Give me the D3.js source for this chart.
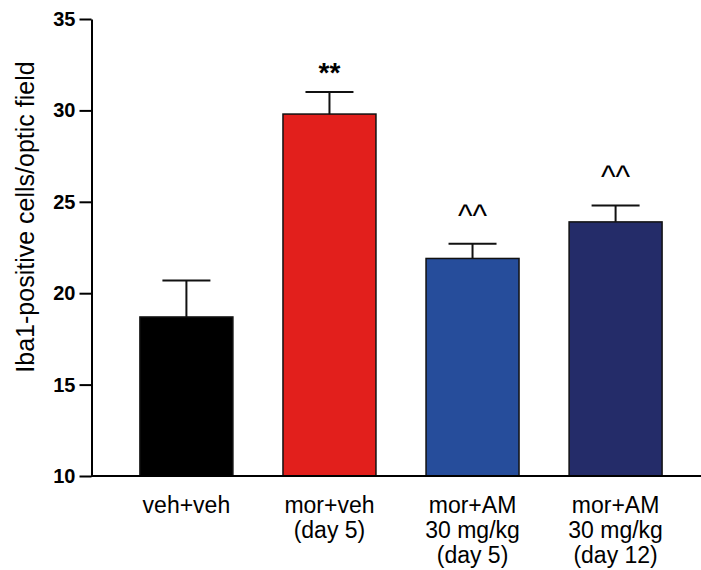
<!DOCTYPE html>
<html>
<head>
<meta charset="utf-8">
<script src="https://cdn.jsdelivr.net/npm/d3@7"></script>
<style>
  body { margin: 0; background: #fff; }
  svg { display: block; font-family: Arial, "Liberation Sans", sans-serif; }
</style>
</head>
<body>
<svg id="chart" width="701" height="570"></svg>
<script>
// groups along the x axis, one label line per entry
const groups = ['vehveh', 'morveh', 'moram5', 'moram12']
const groupLabels = [
  ['veh+veh'],
  ['mor+veh', '(day 5)'],
  ['mor+AM', '30 mg/kg', '(day 5)'],
  ['mor+AM', '30 mg/kg', '(day 12)']
]
const means = [18.7, 29.8, 21.9, 23.9]
const sems = [2.0, 1.2, 0.8, 0.9]
const marks = ['', '**', '^^', '^^']
const colors = ['#000000', '#e21f1c', '#264d9b', '#242c69']
const yTicks = [10, 15, 20, 25, 30, 35]

const svg = d3.select('#chart')

const x = d3.scaleBand()
  .domain(groups)
  .range([97, 705])
  .paddingInner(0.35)
  .paddingOuter(0.3)

const y = d3.scaleLinear()
  .domain([10, 35])
  .range([476, 19])

// y axis
const yAxis = svg.append('g')
  .attr('transform', 'translate(91.5,0)')
  .call(d3.axisLeft(y).tickValues(yTicks).tickSize(12).tickPadding(4).tickSizeOuter(0))
yAxis.select('.domain').attr('stroke', '#000').attr('stroke-width', 2)
yAxis.selectAll('.tick line').attr('stroke', '#000').attr('stroke-width', 2)
yAxis.selectAll('.tick text')
  .attr('fill', '#000')
  .style('font-size', '20px')
  .style('font-weight', 'bold')

// y axis title
svg.append('text')
  .attr('transform', 'translate(34,217) rotate(-90)')
  .attr('text-anchor', 'middle')
  .style('font-size', '25px')
  .attr('fill', '#000')
  .text('Iba1-positive cells/optic field')

// bars
const bars = svg.append('g')
groups.forEach((g, i) => {
  const bx = x(g)
  const bw = x.bandwidth()
  const cx = bx + bw / 2
  bars.append('rect')
    .attr('x', bx)
    .attr('y', y(means[i]))
    .attr('width', bw)
    .attr('height', y(10) - y(means[i]))
    .attr('fill', colors[i])
    .attr('stroke', '#111')
    .attr('stroke-width', 1.5)
  // error bar (upper only)
  bars.append('line')
    .attr('x1', cx).attr('x2', cx)
    .attr('y1', y(means[i])).attr('y2', y(means[i] + sems[i]))
    .attr('stroke', '#111').attr('stroke-width', 2)
  bars.append('line')
    .attr('x1', cx - 24).attr('x2', cx + 24)
    .attr('y1', y(means[i] + sems[i])).attr('y2', y(means[i] + sems[i]))
    .attr('stroke', '#111').attr('stroke-width', 2)
  // significance mark
  if (marks[i] === '**') {
    bars.append('text')
      .attr('x', cx).attr('y', y(means[i] + sems[i]) - 10)
      .attr('text-anchor', 'middle')
      .style('font-size', '28px').style('font-weight', 'bold')
      .text(marks[i])
  } else if (marks[i]) {
    bars.append('text')
      .attr('x', cx).attr('y', y(means[i] + sems[i]) - 18)
      .attr('text-anchor', 'middle')
      .style('font-size', '31px')
      .text(marks[i])
  }
})

// x axis line
svg.append('line')
  .attr('x1', 91).attr('x2', 701)
  .attr('y1', y(10)).attr('y2', y(10))
  .attr('stroke', '#000').attr('stroke-width', 2)

// x labels
const labels = svg.append('g')
groups.forEach((g, i) => {
  const t = labels.append('text')
    .attr('x', x(g) + x.bandwidth() / 2)
    .attr('y', 513)
    .attr('text-anchor', 'middle')
    .style('font-size', '23px')
    .attr('fill', '#000')
  groupLabels[i].forEach((line, j) => {
    t.append('tspan')
      .attr('x', x(g) + x.bandwidth() / 2)
      .attr('dy', j === 0 ? 0 : 25)
      .text(line)
  })
})
</script>
</body>
</html>
